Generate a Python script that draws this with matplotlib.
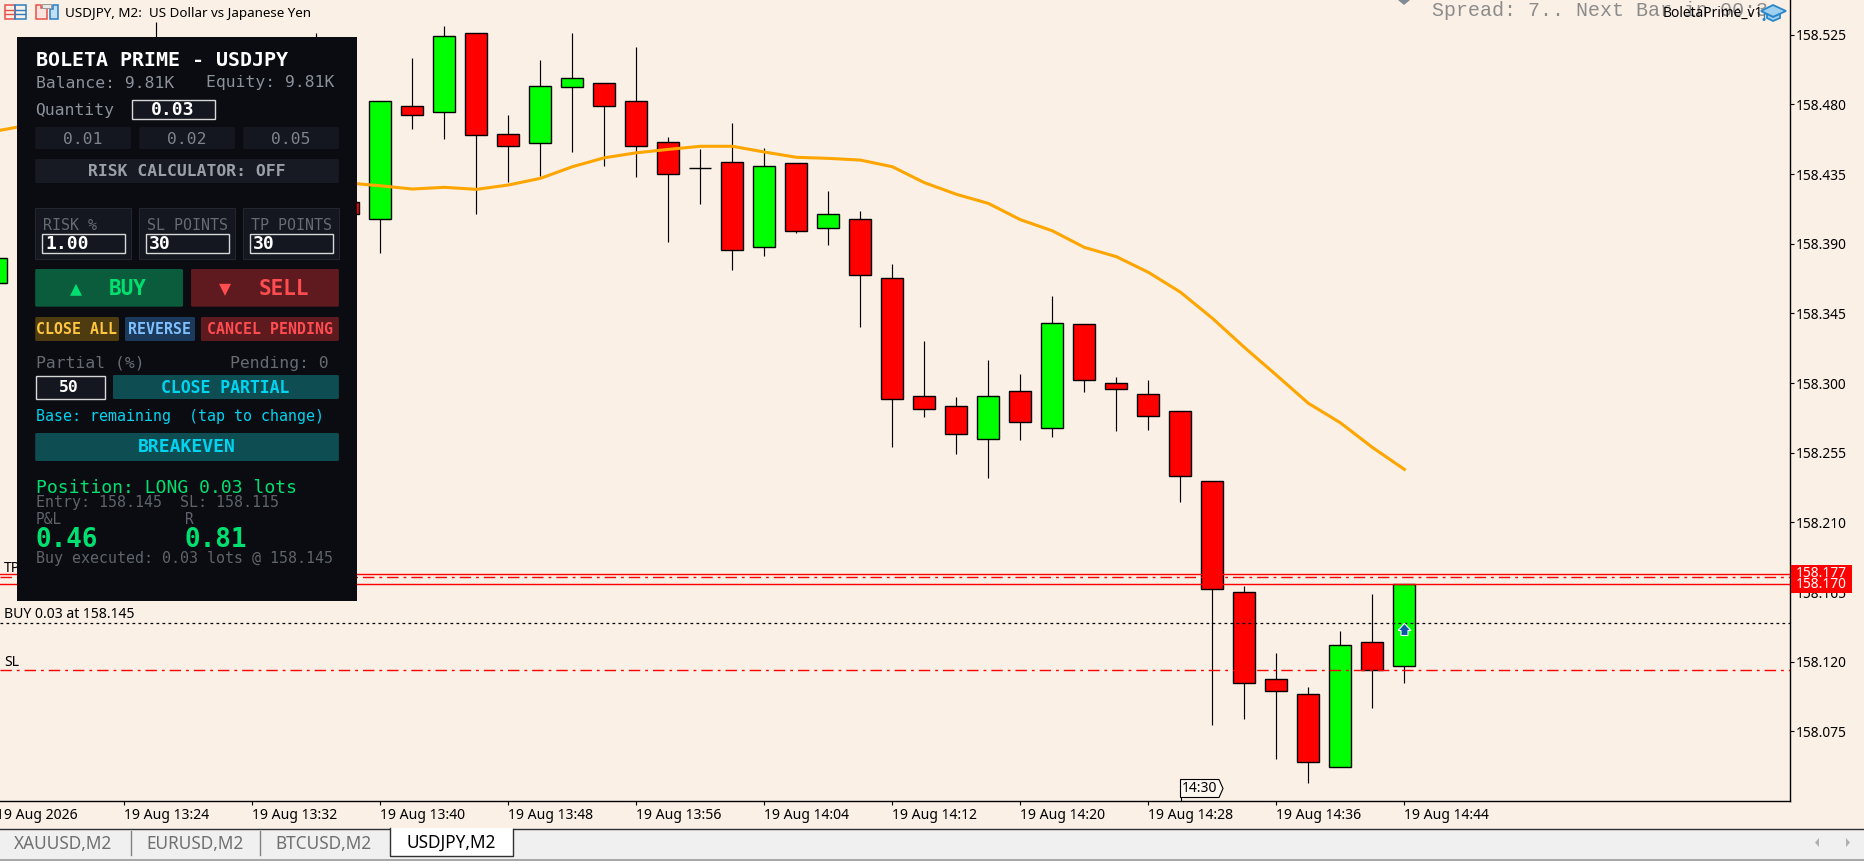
import matplotlib
matplotlib.use("Agg")
import matplotlib.pyplot as plt
from matplotlib.patches import Polygon, Rectangle, FancyBboxPatch, Circle

W, H = 1865, 861
BG = "#faf0e6"
MONO = ["DejaVu Sans Mono", "Liberation Mono"]
SANS = ["Noto Sans", "DejaVu Sans"]

# candles, index 0 is the 13:40 bar, one index is 2 minutes
candle_idx = [-12, -7, -2, -1] + list(range(0, 33))
opens = [158.365, 158.500, 158.480, 158.417,
         158.406, 158.479, 158.475, 158.526, 158.461, 158.455, 158.491, 158.494, 158.482,
         158.456, 158.439, 158.443, 158.388, 158.442, 158.400, 158.406, 158.368, 158.292,
         158.285, 158.264, 158.295, 158.271, 158.338, 158.300, 158.293, 158.282, 158.237,
         158.165, 158.109, 158.099, 158.052, 158.133, 158.117]
closes = [158.381, 158.490, 158.470, 158.409,
          158.482, 158.473, 158.524, 158.460, 158.453, 158.492, 158.497, 158.479, 158.453,
          158.435, 158.439, 158.386, 158.440, 158.398, 158.409, 158.370, 158.290, 158.283,
          158.267, 158.292, 158.275, 158.339, 158.302, 158.296, 158.279, 158.240, 158.167,
          158.106, 158.101, 158.055, 158.131, 158.115, 158.170]
highs = [158.385, 158.533, 158.526, 158.420,
         158.482, 158.510, 158.531, 158.526, 158.473, 158.509, 158.526, 158.494, 158.517,
         158.459, 158.451, 158.468, 158.452, 158.442, 158.424, 158.411, 158.377, 158.327,
         158.291, 158.315, 158.306, 158.356, 158.338, 158.304, 158.302, 158.282, 158.237,
         158.169, 158.126, 158.104, 158.140, 158.164, 158.170]
lows = [158.360, 158.470, 158.460, 158.400,
        158.384, 158.464, 158.458, 158.409, 158.430, 158.434, 158.449, 158.440, 158.433,
        158.391, 158.416, 158.373, 158.382, 158.397, 158.389, 158.336, 158.259, 158.278,
        158.254, 158.239, 158.263, 158.265, 158.294, 158.269, 158.270, 158.223, 158.079,
        158.083, 158.057, 158.042, 158.052, 158.090, 158.106]

# moving average, the stretch behind the panel is a guess
ma_idx = list(range(-12, 33))
ma_vals = [158.4629, 158.4667, 158.4687, 158.4687, 158.4667, 158.4629, 158.4577, 158.4519,
           158.4461, 158.4402, 158.4351, 158.4293,
           158.4275, 158.4254, 158.4265, 158.4252, 158.4280, 158.4323, 158.4398, 158.4456,
           158.4488, 158.4510, 158.4530, 158.4530, 158.4493, 158.4459, 158.4452, 158.4441,
           158.4398, 158.4295, 158.4220, 158.4161, 158.4056, 158.3984, 158.3877, 158.3817,
           158.3716, 158.3588, 158.3419, 158.3231, 158.3052, 158.2870, 158.2744, 158.2585,
           158.2443]

ask = 158.177
bid = 158.170
tp = 158.1746
entry = 158.145
sl = 158.115

y_ticks = [158.525, 158.480, 158.435, 158.390, 158.345, 158.300, 158.255, 158.210,
           158.165, 158.120, 158.075]
x_ticks = list(range(-12, 33, 4))
x_labels = ["19 Aug 2026", "19 Aug 13:24", "19 Aug 13:32", "19 Aug 13:40", "19 Aug 13:48",
            "19 Aug 13:56", "19 Aug 14:04", "19 Aug 14:12", "19 Aug 14:20", "19 Aug 14:28",
            "19 Aug 14:36", "19 Aug 14:44"]
tabs = ["XAUUSD,M2", "EURUSD,M2", "BTCUSD,M2", "USDJPY,M2"]


def fs(px):
    return px * 0.72


fig = plt.figure(figsize=(W / 100, H / 100), dpi=100, facecolor=BG)

# chart
ax = fig.add_axes([0, (H - 801) / H, 1790 / W, 801 / H], facecolor=BG)

ax.vlines(candle_idx, lows, highs, color="black", lw=0.85, zorder=2)
for i, o, c in zip(candle_idx, opens, closes):
    col = "#00ff00" if c > o else "#ff0000"
    ax.bar(i, abs(c - o), bottom=min(o, c), width=0.69, color=col, edgecolor="black", lw=1.0, zorder=3)
ax.plot(ma_idx, ma_vals, color="#ffa500", lw=2.2, zorder=4)

dashdot = (0, (8.2, 3.6, 2, 3.6))
ax.axhline(ask, color="#ff0000", lw=1.0, zorder=5)
ax.axhline(bid, color="#ff0000", lw=1.0, zorder=5)
ax.axhline(tp, color="#ff0000", lw=1.0, ls=dashdot, zorder=5)
ax.axhline(sl, color="#ff0000", lw=1.0, ls=dashdot, zorder=5)
ax.axhline(entry, color="black", lw=0.9, ls=(0, (2.2, 2.6)), zorder=5)

for s in ["top", "left"]:
    ax.spines[s].set_visible(False)
for s in ["right", "bottom"]:
    ax.spines[s].set_linewidth(1.0)
ax.yaxis.tick_right()
ax.set_yticks(y_ticks)
ax.set_yticklabels(["%.3f" % v for v in y_ticks], fontsize=fs(13.8), family=SANS)
# first tick sits just off the left edge, its label still shows
ax.set_xticks(x_ticks[1:])
ax.set_xticklabels(x_labels[1:], fontsize=fs(14), family=SANS, ha="left")
ax.annotate(x_labels[0], (x_ticks[0], 0), xycoords=ax.get_xaxis_transform(), xytext=(0, -5.2),
            textcoords="offset points", ha="left", va="top", fontsize=fs(14), family=SANS,
            annotation_clip=False)
ax.tick_params(axis="y", length=3, width=0.8, pad=1.5)
ax.tick_params(axis="x", length=3, width=0.8, pad=2)
# limits last, set_xticks widens them otherwise
ax.set_xlim(-11.8875, 44.05)
ax.set_ylim(158.0301, 158.5475)

# everything else in pixel coordinates
ui = fig.add_axes([0, 0, 1, 1], facecolor="none")
ui.set_xlim(0, W)
ui.set_ylim(H, 0)
ui.axis("off")


def box(x0, y0, x1, y1, fc, ec="none", lw=0, z=10):
    ui.add_patch(Rectangle((x0, y0), x1 - x0, y1 - y0, fc=fc, ec=ec, lw=lw, zorder=z))


def btn(x0, y0, x1, y1, fc, z=10):
    ui.add_patch(FancyBboxPatch((x0 + 1.5, y0 + 1.5), x1 - x0 - 3, y1 - y0 - 3,
                                boxstyle="round,pad=1.5", fc=fc, ec="none", zorder=z))


def txt(x, y, s, px, color, bold=False, ha="left", family=MONO, z=12):
    if family is MONO:
        y = y + 1
    ui.text(x, y, s, fontsize=fs(px), color=color, ha=ha, va="center", family=family,
            fontweight="bold" if bold else "normal", zorder=z)


# text on the chart
txt(4, 615, "BUY 0.03 at 158.145", 14, "black", family=SANS, z=6)
txt(4, 662.5, "SL", 14, "black", family=SANS, z=6)
txt(4, 568, "TP", 14, "black", family=SANS, z=6)
txt(65, 13, "USDJPY, M2:  US Dollar vs Japanese Yen", 13.4, "black", family=SANS, z=6)
txt(1432, 10, "Spread: 7.. Next Bar in 00:3", 20, "#8c8c8c", family=["Liberation Mono"], z=6)
txt(1663, 13, "BoletaPrime_v1", 13.8, "black", family=SANS, z=7)

# top left icons
box(4.5, 5, 15, 19, "none", "#e8504a", 1.1, z=6)
box(15, 5, 25.5, 19, "none", "#2a7fc4", 1.1, z=6)
for yy in [9.5, 14]:
    ui.plot([5, 15], [yy, yy], color="#e8504a", lw=1.0, zorder=6)
    ui.plot([15, 25], [yy, yy], color="#2a7fc4", lw=1.0, zorder=6)
ui.add_patch(Polygon([(36, 5), (41, 5), (41, 8), (47, 8), (47, 19), (36, 19)], fc="#fbe3df", ec="#e8504a", lw=1.1, zorder=6))
ui.add_patch(Polygon([(50, 19), (50, 9), (53, 9), (53, 5), (58, 5), (58, 19)], fc="#bfe0f7", ec="#2a7fc4", lw=1.1, zorder=6))
box(42, 4, 51, 8, "#e8e8e8", "#999999", 0.7, z=6)

# gray diamond and school hat
ui.add_patch(Polygon([(1398, 0), (1410, 0), (1404, 5)], fc="#7f8a96", ec="none", zorder=6))
ui.add_patch(Polygon([(1761, 11), (1773, 5), (1786, 11), (1773, 17)], fc="#9fd0f0", ec="#2a86c8", lw=1.3, zorder=7))
ui.add_patch(Polygon([(1767, 14), (1767, 18), (1773, 21), (1780, 18), (1780, 14), (1773, 17)], fc="#9fd0f0", ec="#2a86c8", lw=1.3, zorder=7))
ui.plot([1764, 1764], [12, 19], color="#2a86c8", lw=1.0, zorder=7)
ui.add_patch(Circle((1764, 19.5), 1.5, fc="#2a86c8", ec="none", zorder=7))

# order arrow on the last bar
ui.add_patch(Polygon([(1404.4, 623.5), (1411, 630.5), (1408, 630.5), (1408, 635.5), (1401, 635.5), (1401, 630.5), (1398, 630.5)],
                     fc="#0a56a8", ec="white", lw=0.8, zorder=6))

# vertical time marker
ui.plot([1180.5, 1180.5], [797, 801], color="black", lw=0.8, zorder=6)
ui.add_patch(Polygon([(1180.5, 779.5), (1219, 779.5), (1223, 788.5), (1219, 797.5), (1180.5, 797.5)], fc="#fdf8f2", ec="black", lw=0.8, zorder=6))
txt(1200, 788.5, "14:30", 14, "black", ha="center", family=SANS, z=7)

# price tags
box(1791, 565, 1852, 580, "#ff0000", z=6)
txt(1796, 573.5, "%.3f" % ask, 13.8, "white", family=SANS, z=7)
box(1791, 577, 1852, 592.5, "#ff0000", z=8)
txt(1796, 585, "%.3f" % bid, 13.8, "white", family=SANS, z=9)

# tab bar
box(0, 828, W, 859, "#f0f0f0", z=6)
ui.plot([0, W], [828.5, 828.5], color="#303030", lw=1.0, zorder=7)
box(0, 859, W, 861, "#a8a8a8", z=6)
box(389.5, 828, 512.5, 856, "white", z=7)
ui.plot([389.5, 389.5, 512.5, 512.5], [828, 856, 856, 829], color="#303030", lw=1.0, zorder=8)
for xs in [130.5, 260]:
    ui.plot([xs, xs], [831, 855], color="#808080", lw=1.0, zorder=7)
for tx, tab, col, ty in zip([63, 194.5, 323.5, 451], tabs, ["#707070"] * 3 + ["black"], [844, 844, 844, 843]):
    txt(tx, ty, tab, 17.2, col, ha="center", family=SANS, z=8)
ui.add_patch(Polygon([(1819, 838), (1819, 847), (1815, 842.5)], fc="#b0b0b0", ec="none", zorder=7))
ui.add_patch(Polygon([(1846, 838), (1846, 847), (1850, 842.5)], fc="#b0b0b0", ec="none", zorder=7))

# panel
box(17, 37, 357, 601, "#0a0c12")
GREY = "#8b929a"
DIM = "#666b72"
CARD = "#141720"
EDGE = "#d8d8d8"
CYAN = "#00d4f0"
GREEN = "#00e070"
RED = "#ff4d50"
TEAL = "#0e4d52"
MAROON = "#5f1a20"
col_x = [(35.2, 130.9), (139.2, 234.9), (243.2, 338.9)]

txt(35.6, 60, "BOLETA PRIME - USDJPY", 20, "white", bold=True)
txt(35.6, 82, "Balance: 9.81K", 16.4, GREY)
txt(205.6, 82, "Equity: 9.81K", 16.4, GREY)
txt(35.6, 110, "Quantity", 16.4, GREY)
box(131.5, 99.5, 214.5, 118.5, CARD, EDGE, 1.0, z=11)
txt(172.9, 108.7, "0.03", 18, "white", bold=True, ha="center")
for (x0, x1), s in zip(col_x, ["0.01", "0.02", "0.05"]):
    btn(x0, 127, x1, 149, CARD)
    txt((x0 + x1) / 2, 138, s, 16.4, "#7d848c", ha="center")
btn(35.2, 159, 338.9, 183, "#171a23")
txt(186.6, 171, "RISK CALCULATOR: OFF", 16.4, "#9aa0a8", bold=True, ha="center")

for (x0, x1), lab, val in zip(col_x, ["RISK %", "SL POINTS", "TP POINTS"], ["1.00", "30", "30"]):
    box(x0, 207.5, x1, 258.5, CARD, "#22262f", 0.8)
    txt(x0 + 8, 224, lab, 15, DIM)
    box(x0 + 6.5, 233.5, x0 + 89.5, 252.5, CARD, EDGE, 1.0, z=11)
    txt(x0 + 10, 243, val, 18, "white", bold=True)

btn(35.2, 269, 183, 306.7, "#0a5c3c")
btn(191, 269, 338.9, 306.7, MAROON)
txt(76.3, 288, "▲", 20, GREEN, ha="center")
txt(128, 288, "BUY", 21, GREEN, bold=True, ha="center")
txt(225.4, 288, "▼", 20, RED, ha="center")
txt(284, 288, "SELL", 21, RED, bold=True, ha="center")

btn(35.2, 317, 119, 341, "#4e3c10")
txt(76.3, 329, "CLOSE ALL", 14.9, "#ffc640", bold=True, ha="center")
btn(125, 317, 195, 341, "#1b3a5c")
txt(159.7, 329, "REVERSE", 14.9, "#7fc0ff", bold=True, ha="center")
btn(200.9, 317, 338.9, 341, MAROON)
txt(270, 329, "CANCEL PENDING", 14.9, RED, bold=True, ha="center")

txt(35.6, 362.3, "Partial (%)", 16.4, DIM)
txt(329, 362.3, "Pending: 0", 16.4, DIM, ha="right")
box(35.5, 375.5, 104.5, 398.5, CARD, EDGE, 1.0, z=11)
txt(69, 387, "50", 16.4, "white", bold=True, ha="center")
btn(113, 375, 338.9, 399, TEAL)
txt(225.4, 387, "CLOSE PARTIAL", 16.5, CYAN, bold=True, ha="center")
txt(35.6, 415.3, "Base: remaining  (tap to change)", 15, CYAN)
btn(35.2, 433, 338.9, 461, TEAL)
txt(186.6, 446.5, "BREAKEVEN", 18, CYAN, bold=True, ha="center")
txt(35.6, 486.7, "Position: LONG 0.03 lots", 18, GREEN)
txt(35.6, 501.3, "Entry: 158.145  SL: 158.115", 15, "#5f646b")
txt(35.6, 519, "P&L", 14.5, "#5f646b")
txt(185, 519, "R", 14.5, "#5f646b")
txt(35.6, 539.3, "0.46", 26, GREEN, bold=True)
txt(185, 539.3, "0.81", 26, GREEN, bold=True)
txt(35.6, 557.3, "Buy executed: 0.03 lots @ 158.145", 15, "#5f646b")

fig.savefig("out.png", dpi=100, facecolor=BG)
